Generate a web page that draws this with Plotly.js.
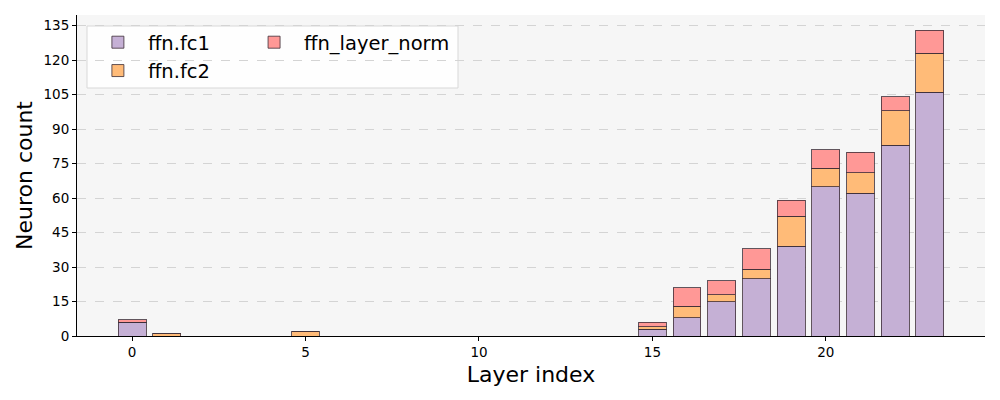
<!DOCTYPE html>
<html>
<head>
<meta charset="utf-8">
<script src="https://cdn.plot.ly/plotly-3.0.1.min.js"></script>
<style>html,body{margin:0;padding:0;background:#fff;}#chart{width:1000px;height:400px;}</style>
</head>
<body>
<div id="chart"></div>
<script>
const layers = [0,1,2,3,4,5,6,7,8,9,10,11,12,13,14,15,16,17,18,19,20,21,22,23];
const fc1 =       [6,0,0,0,0,0,0,0,0,0,0,0,0,0,0,3,8,15,25,39,65,62,83,106];
const fc2 =       [0,1,0,0,0,2,0,0,0,0,0,0,0,0,0,1,5,3,4,13,8,9,15,17];
const layerNorm = [1,0,0,0,0,0,0,0,0,0,0,0,0,0,0,2,8,6,9,7,8,9,6,10];
const xTicks = [0,5,10,15,20];
const yTicks = [0,15,30,45,60,75,90,105,120,135];

const edge = {color: 'rgba(60,45,55,0.8)', width: 1};
const font = 'DejaVu Sans, sans-serif';

const traces = [
  {type:'bar', x:layers, y:fc1, name:'ffn.fc1', width:0.8,
   marker:{color:'#c5b0d5', line:edge}, legend:'legend'},
  {type:'bar', x:layers, y:fc2, name:'ffn.fc2', width:0.8,
   marker:{color:'#ffbb78', line:edge}, legend:'legend'},
  {type:'bar', x:layers, y:layerNorm, name:'ffn_layer_norm', width:0.8,
   marker:{color:'#ff9896', line:edge}, legend:'legend2'}
];

const layout = {
  width:1000, height:400,
  margin:{l:77, r:15, t:15, b:64},
  paper_bgcolor:'#ffffff', plot_bgcolor:'#f6f6f6',
  barmode:'stack', bargap:0,
  font:{family:font, color:'#000', size:14},
  showlegend:true,
  xaxis:{range:[-1.59,24.59], tickvals:xTicks, ticktext:xTicks.map(String),
    showline:true, linecolor:'#000', linewidth:1, ticks:'outside', ticklen:4, tickcolor:'#000',
    showgrid:false, zeroline:false, tickfont:{size:13.5, family:font},
    title:{text:'Layer index', font:{size:22, family:font}, standoff:7}},
  yaxis:{range:[0,139.65], tickvals:yTicks, ticktext:yTicks.map(String),
    showline:true, linecolor:'#000', linewidth:1, ticks:'outside', ticklen:4, tickcolor:'#000',
    showgrid:true, gridcolor:'#d4d4d4', griddash:'dash', gridwidth:1, zeroline:false,
    tickfont:{size:13.5, family:font},
    title:{text:'Neuron count', font:{size:22, family:font}, standoff:4}},
  legend:{x:0.012, y:0.975, xanchor:'left', yanchor:'top', bgcolor:'rgba(0,0,0,0)',
    borderwidth:0, font:{size:19.5, family:font}, traceorder:'normal', itemwidth:50},
  legend2:{x:0.184, y:0.975, xanchor:'left', yanchor:'top', bgcolor:'rgba(0,0,0,0)',
    borderwidth:0, font:{size:19.5, family:font}, itemwidth:50},
  shapes:[{type:'rect', xref:'paper', yref:'paper', x0:0.011, x1:0.4196, y0:0.7726, y1:0.9657,
    line:{color:'#d8d8d8', width:1}, fillcolor:'rgba(255,255,255,0.85)', layer:'between'}]
};

Plotly.newPlot('chart', traces, layout, {displayModeBar:false, staticPlot:true});
</script>
</body>
</html>
